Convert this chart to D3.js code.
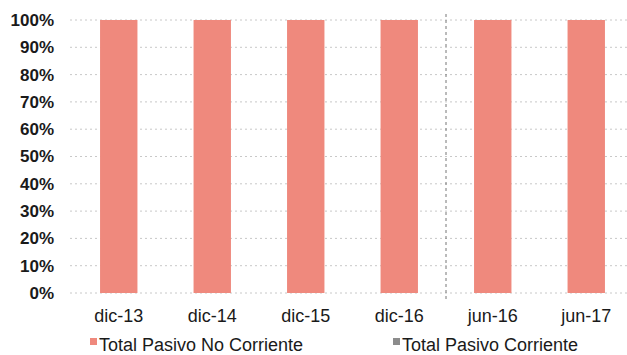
<!DOCTYPE html>
<html>
<head>
<meta charset="utf-8">
<script src="https://cdn.jsdelivr.net/npm/d3@7"></script>
<style>
  body { margin: 0; background: #fff; }
  svg { display: block; }
</style>
</head>
<body>
<div id="chart"></div>
<script>
// chart data
const categories = ["dic-13", "dic-14", "dic-15", "dic-16", "jun-16", "jun-17"];
const pasivoNoCorriente = [100, 100, 100, 100, 100, 100];
const pasivoCorriente = [0, 0, 0, 0, 0, 0];
const yTicks = [0, 10, 20, 30, 40, 50, 60, 70, 80, 90, 100];
const seriesNames = ["Total Pasivo No Corriente", "Total Pasivo Corriente"];
const seriesColors = ["#EF897D", "#8C8C8C"];

const width = 627, height = 355;
const font = "'Liberation Sans', Arial, sans-serif";

const svg = d3.select("#chart").append("svg")
    .attr("width", width)
    .attr("height", height);

const x = d3.scaleBand()
    .domain(categories)
    .range([72, 633])
    .paddingInner(0.6)
    .paddingOuter(0.3);

const y = d3.scaleLinear()
    .domain([0, 100])
    .range([293, 20]);

// dotted gridlines
svg.append("g")
    .selectAll("line")
    .data(yTicks)
    .join("line")
    .attr("x1", 70)
    .attr("x2", width)
    .attr("y1", d => y(d))
    .attr("y2", d => y(d))
    .attr("stroke", "#c8c8c8")
    .attr("stroke-width", 1)
    .attr("stroke-dasharray", "2,3");

// y axis labels
const yAxis = svg.append("g")
    .attr("transform", "translate(54,0)")
    .call(d3.axisLeft(y).tickValues(yTicks).tickSize(0).tickPadding(0).tickFormat(d => d + "%"));
yAxis.select(".domain").remove();
yAxis.selectAll("text")
    .style("font-family", font)
    .style("font-size", "17px")
    .style("font-weight", "bold")
    .attr("fill", "#1a1a1a");

// stacked bars
const rows = categories.map((c, i) => ({ cat: c, a: pasivoNoCorriente[i], b: pasivoCorriente[i] }));
const stack = d3.stack().keys(["a", "b"])(rows);

svg.append("g")
    .selectAll("g")
    .data(stack)
    .join("g")
    .attr("fill", (d, i) => seriesColors[i])
    .selectAll("rect")
    .data(d => d)
    .join("rect")
    .attr("x", d => x(d.data.cat))
    .attr("y", d => y(d[1]))
    .attr("width", x.bandwidth())
    .attr("height", d => y(d[0]) - y(d[1]));

// dashed separator between dic-16 and jun-16
const sepX = (x("dic-16") + x.bandwidth() + x("jun-16")) / 2;
svg.append("line")
    .attr("x1", sepX).attr("x2", sepX)
    .attr("y1", 14).attr("y2", 302)
    .attr("stroke", "#777")
    .attr("stroke-width", 1)
    .attr("stroke-dasharray", "3,3");

// x axis labels
const xAxis = svg.append("g")
    .attr("transform", "translate(0,305)")
    .call(d3.axisBottom(x).tickSize(0).tickPadding(0));
xAxis.select(".domain").remove();
xAxis.selectAll("text")
    .attr("dy", "0")
    .attr("y", 17)
    .style("font-family", font)
    .style("font-size", "18px")
    .attr("fill", "#1a1a1a");

// legend
const legendX = [90, 393];
const legend = svg.append("g")
    .selectAll("g")
    .data(seriesNames)
    .join("g")
    .attr("transform", (d, i) => `translate(${legendX[i]},0)`);
legend.append("rect")
    .attr("x", 0).attr("y", 338)
    .attr("width", 7).attr("height", 7)
    .attr("fill", (d, i) => seriesColors[i]);
legend.append("text")
    .attr("x", 9).attr("y", 351)
    .text(d => d)
    .style("font-family", font)
    .style("font-size", "18px")
    .attr("fill", "#1a1a1a");
</script>
</body>
</html>
